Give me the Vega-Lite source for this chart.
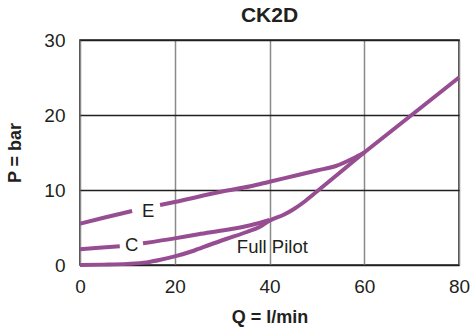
{
  "$schema": "https://vega.github.io/schema/vega-lite/v6.json",
  "width": 379,
  "height": 225,
  "autosize": {"type": "none"},
  "padding": {"left": 80, "top": 40, "right": 12, "bottom": 71},
  "background": "white",
  "title": {"text": "CK2D", "font": "Liberation Sans", "fontSize": 21, "fontWeight": "bold", "color": "#231f20", "anchor": "middle", "frame": "group", "offset": 5},
  "config": {
    "view": {"stroke": "#231f20", "strokeWidth": 1.6},
    "axis": {"labelFont": "Liberation Sans", "titleFont": "Liberation Sans", "labelColor": "#231f20", "titleColor": "#231f20", "labelFontSize": 19, "titleFontSize": 18, "titleFontWeight": "bold", "domain": false, "ticks": false, "labelFlush": false}
  },
  "datasets": {
    "curves": [
      {"s": "E1", "Q": 0, "P": 5.5}, {"s": "E1", "Q": 5, "P": 6.3}, {"s": "E1", "Q": 11, "P": 7.2},
      {"s": "E2", "Q": 16.9, "P": 8.0}, {"s": "E2", "Q": 20, "P": 8.4}, {"s": "E2", "Q": 30, "P": 9.8}, {"s": "E2", "Q": 36, "P": 10.5}, {"s": "E2", "Q": 40, "P": 11.1}, {"s": "E2", "Q": 46, "P": 12.0}, {"s": "E2", "Q": 50, "P": 12.6}, {"s": "E2", "Q": 54, "P": 13.2}, {"s": "E2", "Q": 57.6, "P": 14.2}, {"s": "E2", "Q": 60, "P": 15},
      {"s": "C1", "Q": 0, "P": 2.1}, {"s": "C1", "Q": 4, "P": 2.3}, {"s": "C1", "Q": 8.4, "P": 2.5},
      {"s": "C2", "Q": 13.3, "P": 2.9}, {"s": "C2", "Q": 20, "P": 3.55}, {"s": "C2", "Q": 25, "P": 4.1}, {"s": "C2", "Q": 31, "P": 4.7}, {"s": "C2", "Q": 36, "P": 5.3}, {"s": "C2", "Q": 40, "P": 6.0},
      {"s": "FP", "Q": 0, "P": 0}, {"s": "FP", "Q": 5, "P": 0.05}, {"s": "FP", "Q": 10, "P": 0.15}, {"s": "FP", "Q": 14, "P": 0.35}, {"s": "FP", "Q": 17, "P": 0.7}, {"s": "FP", "Q": 20, "P": 1.15}, {"s": "FP", "Q": 24, "P": 1.9}, {"s": "FP", "Q": 27.4, "P": 2.7}, {"s": "FP", "Q": 31, "P": 3.5}, {"s": "FP", "Q": 35.2, "P": 4.4}, {"s": "FP", "Q": 38, "P": 5.1}, {"s": "FP", "Q": 40, "P": 5.9}, {"s": "FP", "Q": 43, "P": 6.7}, {"s": "FP", "Q": 45, "P": 7.4}, {"s": "FP", "Q": 47.5, "P": 8.5}, {"s": "FP", "Q": 50, "P": 9.8}, {"s": "FP", "Q": 55, "P": 12.4}, {"s": "FP", "Q": 60, "P": 15}, {"s": "FP", "Q": 65, "P": 17.5}, {"s": "FP", "Q": 70, "P": 20}, {"s": "FP", "Q": 75, "P": 22.5}, {"s": "FP", "Q": 80, "P": 25}
    ],
    "labels": [
      {"label": "E", "Q": 14.4, "P": 7.2},
      {"label": "C", "Q": 10.9, "P": 2.67},
      {"label": "Full Pilot", "Q": 40.6, "P": 2.44}
    ]
  },
  "encoding": {
    "x": {"field": "Q", "type": "quantitative", "scale": {"domain": [0, 80], "nice": false, "zero": false},
      "axis": {"title": "Q = l/min", "values": [0, 20, 40, 60, 80], "grid": true, "gridColor": "#8a8a8a", "gridWidth": 1.5, "gridOpacity": 1, "labelPadding": 12, "titlePadding": 12}},
    "y": {"field": "P", "type": "quantitative", "scale": {"domain": [0, 30], "nice": false, "zero": false},
      "axis": {"title": "P = bar", "values": [0, 10, 20, 30], "grid": true, "gridColor": "#231f20", "gridWidth": 1.3, "gridOpacity": 1, "labelPadding": 15, "titlePadding": 19}}
  },
  "layer": [
    {
      "data": {"name": "curves"},
      "mark": {"type": "line", "color": "#974d91", "strokeWidth": 4, "interpolate": "monotone", "strokeCap": "butt"},
      "encoding": {"detail": {"field": "s"}}
    },
    {
      "data": {"name": "labels"},
      "mark": {"type": "text", "font": "Liberation Sans", "fontSize": 18.5, "color": "#231f20", "align": "center", "baseline": "middle"},
      "encoding": {"text": {"field": "label"}}
    }
  ]
}
